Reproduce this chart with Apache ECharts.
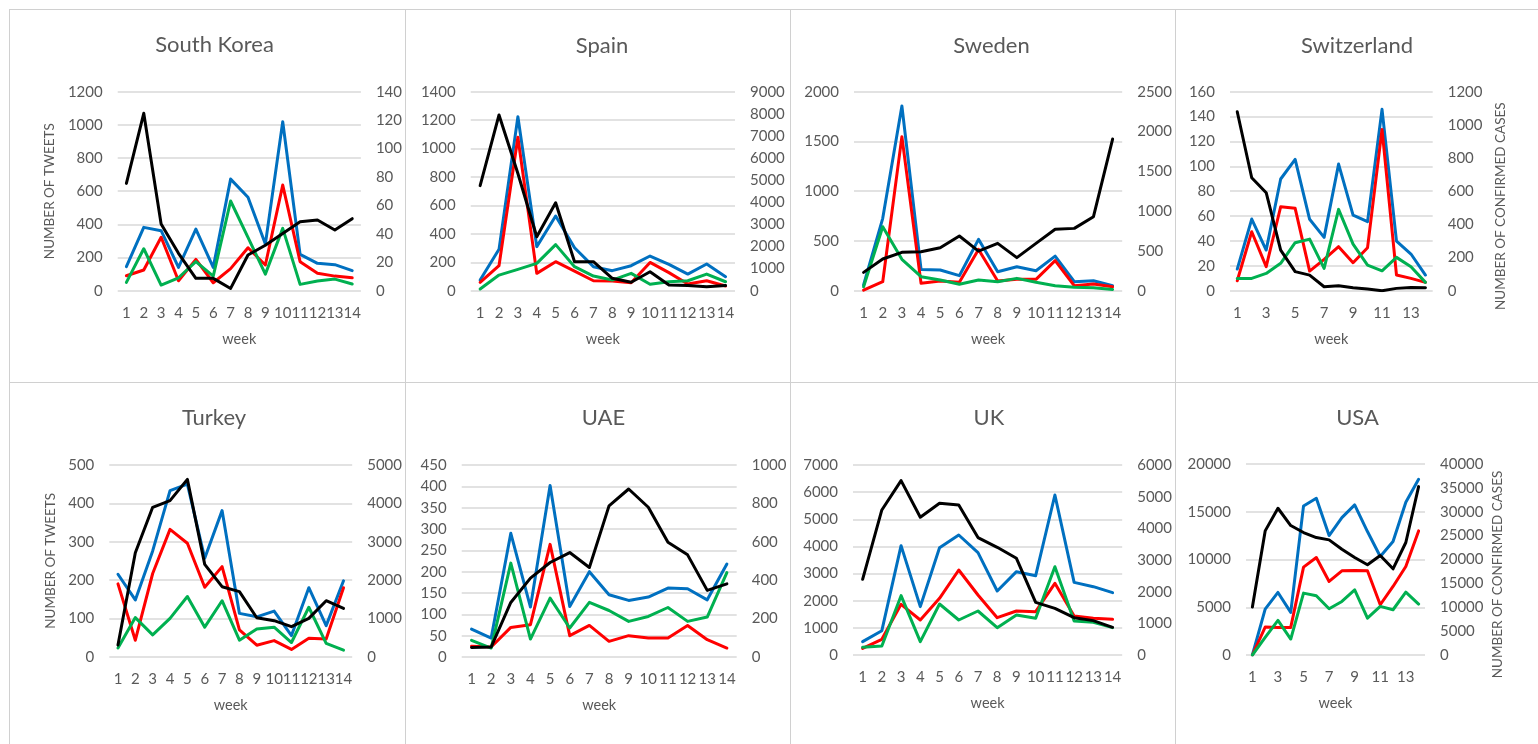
<!DOCTYPE html>
<html>
<head>
<meta charset="utf-8">
<script src="https://cdn.jsdelivr.net/npm/echarts@6/dist/echarts.min.js"></script>
<style>
  html, body { margin: 0; padding: 0; background: #ffffff; width: 1538px; height: 744px; overflow: hidden; position: relative; }
  .panel { position: absolute; overflow: hidden; }
  .vline { position: absolute; width: 1px; background: #d0d0d0; }
  .hline { position: absolute; height: 1px; background: #d0d0d0; }
</style>
</head>
<body>
<script>
// ---------- data ----------
const weeks = ['1','2','3','4','5','6','7','8','9','10','11','12','13','14'];
const countries = ['South Korea','Spain','Sweden','Switzerland','Turkey','UAE','UK','USA'];

// South Korea
const skBlue  = [145, 382, 362, 141, 372, 141, 673, 563, 281, 1019, 219, 165, 157, 121];
const skRed   = [90, 125, 322, 60, 189, 48, 133, 259, 155, 637, 175, 105, 88, 78];
const skGreen = [50, 253, 34, 78, 175, 88, 541, 322, 100, 376, 38, 58, 70, 40];
const skCases = [75.5, 124.8, 46.9, 26.3, 8.7, 8.7, 1.6, 25.1, 32, 40.3, 48.5, 49.7, 42.7, 50.7];
// Spain
const esBlue  = [75, 291, 1224, 310, 525, 302, 169, 141, 176, 244, 185, 117, 188, 98];
const esRed   = [59, 176, 1079, 122, 204, 138, 70, 68, 56, 199, 127, 47, 70, 33];
const esGreen = [12, 110, 150, 192, 324, 169, 103, 75, 122, 45, 63, 70, 117, 63];
const esCases = [4750, 7950, 5300, 2440, 3980, 1310, 1310, 560, 380, 860, 260, 230, 180, 230];
// Sweden
const seBlue  = [57, 727, 1856, 214, 208, 151, 516, 191, 241, 201, 348, 90, 100, 50];
const seRed   = [5, 90, 1548, 74, 97, 84, 415, 97, 114, 114, 302, 50, 67, 40];
const seGreen = [40, 643, 315, 141, 107, 64, 107, 90, 124, 84, 50, 34, 30, 13];
const seCases = [230, 398, 482, 490, 540, 687, 498, 595, 415, 595, 771, 783, 930, 1905];
// Switzerland
const chBlue  = [17.4, 57.6, 32.7, 89.8, 105.6, 57.4, 42.9, 101.8, 60.8, 55.5, 145.8, 39.9, 29.5, 12.6];
const chRed   = [8, 47.4, 19.3, 67.5, 66.2, 15.8, 25.2, 35.4, 22.5, 34.6, 129.7, 12.6, 9.9, 6.7];
const chGreen = [9.9, 9.9, 13.9, 22, 38.6, 41.5, 18, 65.4, 37.5, 20.6, 16, 26.8, 19.3, 6.7];
const chCases = [1079, 681, 591, 245, 115, 94, 24, 30, 18, 10, 0, 14, 20, 18];
// Turkey
const trBlue  = [215, 148, 276, 433, 450, 257, 381, 113, 104, 119, 55, 180, 81, 198];
const trRed   = [190, 43, 217, 332, 296, 181, 235, 70, 30, 42, 19, 48, 46, 180];
const trGreen = [23, 102, 57, 100, 157, 77, 146, 43, 72, 77, 37, 129, 35, 17];
const trCases = [304, 2713, 3896, 4070, 4626, 2409, 1826, 1696, 1017, 939, 783, 1000, 1461, 1261];
// UAE
const aeBlue  = [65.5, 44.5, 290, 117, 402, 118.6, 200, 146, 132.6, 140.4, 161.5, 160, 134, 218];
const aeRed   = [25, 23.4, 69.4, 75.7, 264, 50, 74, 36.7, 50, 44.5, 44.5, 74, 40.6, 21];
const aeGreen = [39, 21, 220, 42, 138, 68, 128, 109, 83.5, 95, 116, 83.5, 93.6, 198];
const aeCases = [50, 52, 284, 411, 492, 544, 466, 787, 875, 780, 598, 532, 347, 381];
// UK
const ukBlue  = [491, 896, 4028, 1781, 3954, 4421, 3770, 2358, 3070, 2923, 5894, 2677, 2517, 2296];
const ukRed   = [246, 577, 1867, 1289, 2088, 3131, 2210, 1375, 1621, 1596, 2640, 1437, 1351, 1314];
const ukGreen = [282, 331, 2186, 491, 1879, 1289, 1621, 1007, 1474, 1351, 3254, 1253, 1203, 1007];
const ukCases = [2390, 4580, 5507, 4349, 4791, 4738, 3707, 3401, 3054, 1664, 1474, 1179, 1085, 874];
// USA
const usBlue  = [0, 4808, 6550, 4460, 15608, 16410, 12508, 14389, 15713, 12926, 10313, 11880, 15992, 18396];
const usRed   = [0, 2926, 2892, 2892, 9198, 10208, 7700, 8815, 8850, 8815, 5261, 7177, 9268, 12995];
const usGreen = [0, 1847, 3623, 1672, 6480, 6202, 4843, 5609, 6829, 3867, 5087, 4738, 6585, 5330];
const usCases = [10035, 25994, 30733, 27109, 25646, 24600, 24113, 22162, 20419, 18886, 20838, 18050, 23555, 35263];

// axis ticks
const leftMax    = [1200, 1400, 2000, 160, 500, 450, 7000, 20000];
const leftStep   = [200, 200, 500, 20, 100, 50, 1000, 5000];
const rightMax   = [140, 9000, 2500, 1200, 5000, 1000, 6000, 40000];
const rightStep  = [20, 1000, 500, 200, 1000, 200, 1000, 5000];
const xLabelSkip = [0, 0, 0, 1, 0, 0, 0, 1];
const leftName   = ['NUMBER OF TWEETS', '', '', '', 'NUMBER OF TWEETS', '', '', ''];
const rightName  = ['', '', '', 'NUMBER OF CONFIRMED CASES', '', '', '', 'NUMBER OF CONFIRMED CASES'];

const blueSets  = [skBlue, esBlue, seBlue, chBlue, trBlue, aeBlue, ukBlue, usBlue];
const redSets   = [skRed, esRed, seRed, chRed, trRed, aeRed, ukRed, usRed];
const greenSets = [skGreen, esGreen, seGreen, chGreen, trGreen, aeGreen, ukGreen, usGreen];
const caseSets  = [skCases, esCases, seCases, chCases, trCases, aeCases, ukCases, usCases];

// ---------- layout (page pixels) ----------
const colX = [9, 405, 790, 1175];
const colW = [396, 385, 385, 385];
const rowY = [9, 382];
const rowH = 373;
// plot rectangles [left, right, top, bottom] in page coords
const plotRect = [
  [117.7, 362.7, 91.7, 290.7],
  [470.7, 735, 91.7, 290.7],
  [854, 1129, 91.7, 290.7],
  [1230, 1432.7, 91.7, 290.7],
  [109.3, 352.7, 465, 656.7],
  [461.7, 736.7, 465, 657],
  [853, 1122.7, 465, 655],
  [1246, 1425, 464, 655]
];
const titlePos = [[214.5, 45], [602, 46], [991.5, 46], [1357, 46], [214, 418], [603.5, 418], [989, 418], [1357.5, 418]];
const leftNameGap  = [56, 0, 0, 0, 48, 0, 0, 0];
const rightNameGap = [0, 0, 0, 59, 0, 0, 0, 66];

const FONT = 'Lato, "Open Sans", sans-serif';
const TXT = '#595959';

// borders
function line(cls, l, t, w, h) {
  const d = document.createElement('div');
  d.className = cls;
  d.style.left = l + 'px'; d.style.top = t + 'px';
  if (w) d.style.width = w + 'px';
  if (h) d.style.height = h + 'px';
  document.body.appendChild(d);
}
line('hline', 9, 9, 1529, 0);
line('hline', 9, 382, 1529, 0);
[9, 405, 790, 1175].forEach(x => line('vline', x, 9, 0, 735));

const plain = v => String(v);

for (let i = 0; i < 8; i++) {
  const c = i % 4, r = Math.floor(i / 4);
  const x0 = colX[c], y0 = rowY[r], w = colW[c], h = rowH;
  const div = document.createElement('div');
  div.className = 'panel';
  div.style.left = (x0 + 1) + 'px';
  div.style.top = (y0 + 1) + 'px';
  div.style.width = (w - 1) + 'px';
  div.style.height = (h - 1) + 'px';
  document.body.appendChild(div);
  const ox = x0 + 1, oy = y0 + 1;
  const pr = plotRect[i];
  const chart = echarts.init(div, null, { renderer: 'canvas' });
  const mkLine = (data, color, axis) => ({
    type: 'line', data: data, yAxisIndex: axis, symbol: 'none', silent: true,
    lineStyle: { color: color, width: 3, join: 'round', cap: 'round' }
  });
  const rShift = rightName[i] ? 30 : 0;
  chart.setOption({
    animation: false,
    textStyle: { fontFamily: FONT },
    graphic: [{
      type: 'text', x: titlePos[i][0] - ox, y: titlePos[i][1] - oy,
      style: { text: countries[i], fill: TXT, font: '22px ' + FONT, align: 'center', verticalAlign: 'middle' }
    }],
    grid: { left: pr[0] - ox, right: (ox + w - 1) - pr[1], top: pr[2] - oy, bottom: (oy + h - 1) - pr[3], containLabel: false },
    xAxis: {
      type: 'category', data: weeks, boundaryGap: true,
      axisLine: { show: false }, axisTick: { show: false },
      axisLabel: { interval: xLabelSkip[i], color: TXT, fontSize: 15, margin: 15, fontFamily: FONT },
      name: 'week', nameLocation: 'middle', nameGap: 41,
      nameTextStyle: { color: TXT, fontSize: 14.5, fontFamily: FONT }
    },
    yAxis: [{
      type: 'value', min: 0, max: leftMax[i], interval: leftStep[i],
      axisLine: { show: false }, axisTick: { show: false },
      splitLine: { show: true, lineStyle: { color: '#d9d9d9', width: 1.5 } },
      axisLabel: { color: TXT, fontSize: 15, margin: 15, fontFamily: FONT, formatter: plain },
      name: leftName[i], nameLocation: 'middle', nameGap: leftNameGap[i],
      nameTextStyle: { color: TXT, fontSize: 13.5, fontFamily: FONT }
    }, {
      type: 'value', position: 'right', min: 0, max: rightMax[i], interval: rightStep[i],
      axisLine: { show: false }, axisTick: { show: false },
      splitLine: { show: false },
      axisLabel: { color: TXT, fontSize: 15, margin: 15, fontFamily: FONT, formatter: plain },
      name: rightName[i], nameLocation: 'middle', nameGap: rightNameGap[i],
      nameTextStyle: { color: TXT, fontSize: 13.5, fontFamily: FONT, padding: [0, rShift, 0, 0] }
    }],
    series: [
      mkLine(blueSets[i], '#0070C0', 0),
      mkLine(redSets[i], '#FF0000', 0),
      mkLine(greenSets[i], '#00B050', 0),
      mkLine(caseSets[i], '#000000', 1)
    ]
  });
}
</script>
</body>
</html>
